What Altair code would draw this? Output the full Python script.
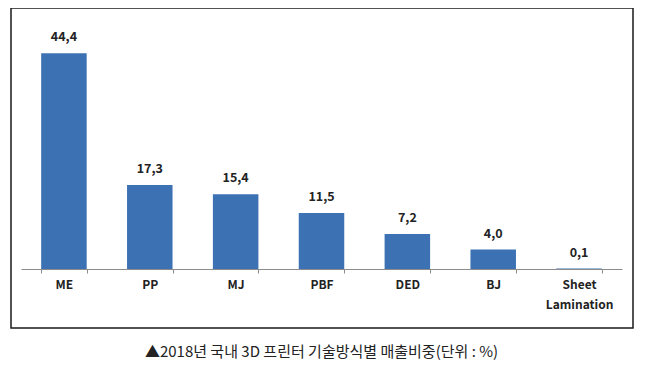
import altair as alt
import pandas as pd

categories = ["ME", "PP", "MJ", "PBF", "DED", "BJ", "Sheet Lamination"]
values = [44.4, 17.3, 15.4, 11.5, 7.2, 4.0, 0.1]
caption = "▲2018년 국내 3D 프린터 기술방식별 매출비중(단위 : %)"

df = pd.DataFrame({"cat": categories, "val": values})

FONT = "Noto Sans CJK KR"

x = alt.X("cat:N", sort=categories, title=None,
          scale=alt.Scale(paddingInner=0.47, paddingOuter=0.235),
          axis=alt.Axis(labelAngle=0, tickBand="extent", domainColor="#8c8c8c",
                        tickColor="#8c8c8c", tickSize=4, labelPadding=6,
                        labelFont=FONT, labelFontSize=12, labelFontWeight="bold",
                        labelColor="#222222", labelLineHeight=20,
                        labelExpr="datum.value == 'Sheet Lamination' ? ['Sheet', 'Lamination'] : datum.value"))
y = alt.Y("val:Q", scale=alt.Scale(domain=[0, 50]), axis=None)

bars = alt.Chart(df).mark_bar(color="#3C72B3").encode(x=x, y=y)

labels = alt.Chart(df).transform_calculate(
    lab="replace(format(datum.val, '.1f'), '.', ',')"
).mark_text(baseline="bottom", dy=-9, font=FONT, fontSize=12.5,
            fontWeight="bold", color="#222222").encode(x=x, y=y, text="lab:N")

frame = alt.Chart(df).mark_rect(fill=None, stroke="#1a1a1a", strokeWidth=1.5).encode(
    x=alt.value(-10), x2=alt.value(612), y=alt.value(-18), y2=alt.value(302)
).transform_filter("datum.cat == 'ME'")

chart = alt.layer(frame, bars, labels).properties(
    width=601, height=243,
    padding={"left": 13, "top": 18, "right": 23, "bottom": 100},
    autosize=alt.AutoSizeParams(type="none"),
    title=alt.TitleParams(caption, orient="bottom", anchor="middle", offset=16,
                          font=FONT, fontSize=15, fontWeight="normal", color="#222222"),
).configure_view(stroke=None)

chart.save("out.html", embed_options={"renderer": "svg", "actions": False})
